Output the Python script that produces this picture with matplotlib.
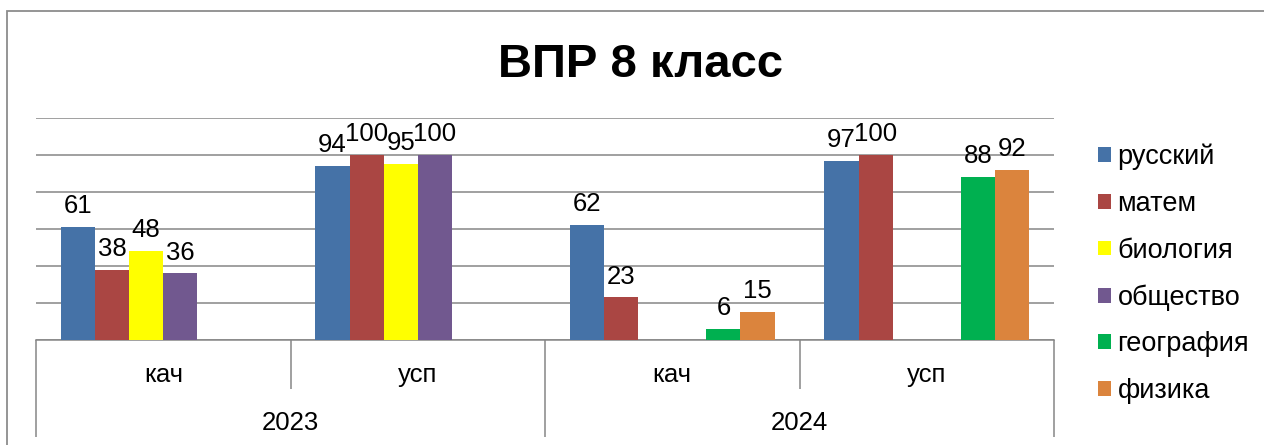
import matplotlib
matplotlib.use("Agg")
import matplotlib.pyplot as plt
from matplotlib.patches import Rectangle, Patch

plt.rcParams['font.family'] = ['Liberation Sans', 'DejaVu Sans']

# ---- data ----
periods = ["кач", "усп", "кач", "усп"]
years = ["2023", "2024"]
subjects = ["русский", "матем", "биология", "общество", "география", "физика"]
russian = [61, 94, 62, 97]
matem = [38, 100, 23, 100]
biology = [48, 95, None, None]
society = [36, 100, None, None]
geography = [None, None, 6, 88]
physics = [None, None, 15, 92]
series = [russian, matem, biology, society, geography, physics]
colors = ["#4572A7", "#AA4643", "#FFFF00", "#71588F", "#00B050", "#DB843D"]

W, H = 1264, 445
fig = plt.figure(figsize=(W / 100, H / 100), dpi=100)
ax = fig.add_axes([36 / W, 1 - 340 / H, (1054 - 36) / W, (340 - 118) / H])

grey = "#868686"
bw = 0.134
n = len(series)
for j, (vals, col) in enumerate(zip(series, colors)):
    for i, v in enumerate(vals):
        if v is None:
            continue
        x = i + 0.5 + (j - (n - 1) / 2) * bw
        ax.bar(x, v, width=bw, color=col, edgecolor='none', zorder=3)
        ax.annotate(str(v), (x, v), xytext=(0, 10), textcoords='offset points',
                    ha='center', va='baseline', fontsize=18.5, color='black',
                    zorder=4)

ax.set_xlim(0, len(periods))
ax.set_ylim(0, 120)
ax.set_yticks(range(0, 121, 20))
ax.yaxis.grid(True, color=grey, linewidth=1.1, zorder=0)
ax.tick_params(axis='both', length=0, labelleft=False, labelbottom=False)
for s in ['left', 'right', 'top']:
    ax.spines[s].set_visible(False)
ax.spines['bottom'].set_color(grey)
ax.spines['bottom'].set_linewidth(1.1)

trans = ax.get_xaxis_transform()
# category separators
for k in range(len(periods) + 1):
    outer = (k % 2 == 0)
    y_end = -0.437 if outer else -0.22
    ax.plot([k, k], [0, y_end], transform=trans, color=grey, linewidth=1.1,
            clip_on=False, solid_capstyle='butt')
for i, p in enumerate(periods):
    ax.text(i + 0.5, -0.189, p, transform=trans, ha='center', va='baseline',
            fontsize=18.5)
for i, yr in enumerate(years):
    ax.text(2 * i + 1, -0.405, yr, transform=trans, ha='center', va='baseline',
            fontsize=18.5)

# title
fig.text(640 / W, 1 - 77 / H, "ВПР 8 класс", ha='center', va='baseline',
         fontsize=34, fontweight='bold')

# legend
handles = [Patch(facecolor=c, edgecolor='none') for c in colors]
leg = fig.legend(handles, subjects, loc='upper left',
                 bbox_to_anchor=(1098 / W, 1 - 144 / H), frameon=False,
                 fontsize=19.5, handlelength=0.47, handleheight=0.47,
                 handletextpad=0.25, labelspacing=0.76, borderpad=0,
                 borderaxespad=0)

# outer chart border (top and left visible)
fig.patches.append(Rectangle((7 / W, -0.1), 1.2, 1 - 11 / H + 0.1,
                             transform=fig.transFigure, fill=False,
                             edgecolor="#8C8C8C", linewidth=1.3))

fig.savefig("out.png", dpi=100)
